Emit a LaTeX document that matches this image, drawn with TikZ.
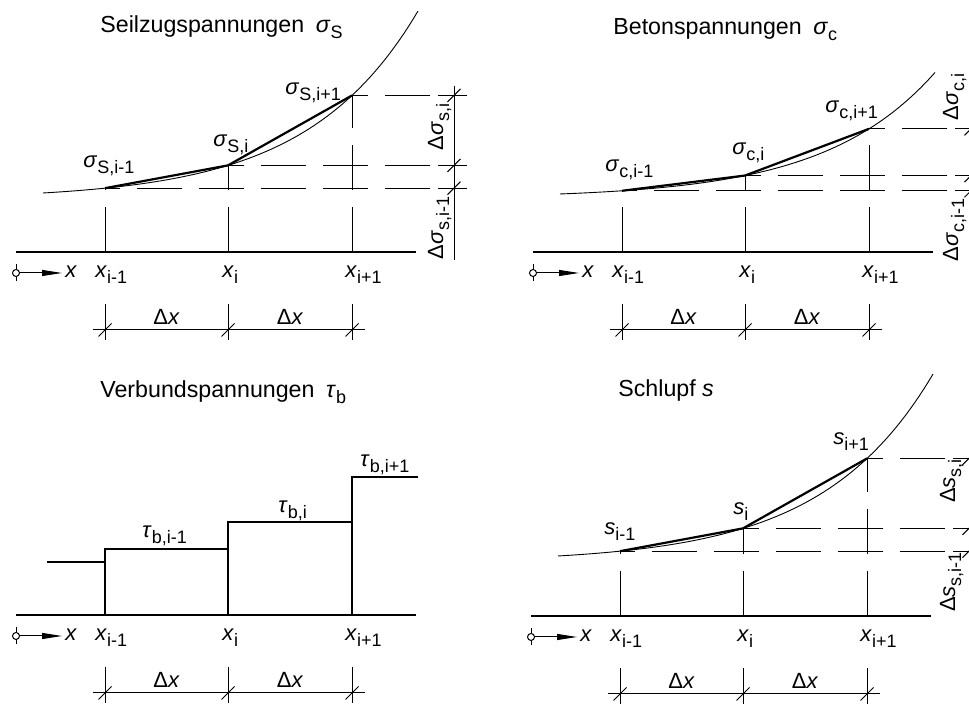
\documentclass[tikz,border=0pt]{standalone}
\usepackage{fontspec}
\setmainfont{Liberation Sans}
\usepackage{tikz}
\usetikzlibrary{arrows.meta, positioning}
\newcommand{\subtxt}[1]{\raisebox{-3pt}{\fontsize{9}{10}\selectfont #1}}
\tikzset{
  thinline/.style={line width=0.5pt},
  axisline/.style={line width=0.55pt},
  curveline/.style={line width=0.45pt},
  chord/.style={line width=1.1pt},
  stepline/.style={line width=1.15pt},
  guide/.style={line width=0.5pt, dash pattern=on 22.5pt off 8.5pt},
  dimline/.style={line width=0.5pt},
  lbl/.style={font=\fontsize{11}{13}\selectfont, inner sep=0pt},
  heading/.style={font=\fontsize{11.6}{14}\selectfont, inner sep=0pt, anchor=base west},
  dimtick/.pic={\draw[dimline] (-6.5,-6.5) -- (6.5,6.5);},
  xaxis/.pic={
    \coordinate (-o) at (0,0);
    \coordinate (-e) at (400,0);
    \coordinate (-m) at (0,-21);
    \coordinate (-mt) at (0,-12);
    \coordinate (-mb) at (0,-29);
    \coordinate (-tip) at (46,-21);
    \draw[axisline] (-o) -- (-e);
    \draw[thinline] (-mt) -- (-mb);
    \draw[thinline, -{Triangle[length=10pt, width=3pt]}] (-m) -- (-tip);
    \draw[thinline, fill=white] (-m) circle[radius=3.5];
    \node[lbl, anchor=base west] (-lx) at (49,-26) {\textit{x}};
    \node[lbl, anchor=base west] (-l1) at (79,-26) {\textit{x}\subtxt{i-1}};
    \node[lbl, anchor=base west] (-l2) at (206,-26) {\textit{x}\subtxt{i}};
    \node[lbl, anchor=base west] (-l3) at (329,-26) {\textit{x}\subtxt{i+1}};
    % Bemassung Delta x
    \coordinate (-u1) at (89,-52);  \coordinate (-v1) at (89,-88);
    \coordinate (-u2) at (212,-52); \coordinate (-v2) at (212,-88);
    \coordinate (-u3) at (336,-52); \coordinate (-v3) at (336,-88);
    \coordinate (-d0) at (77,-78);  \coordinate (-d4) at (349,-78);
    \draw[dimline] (-u1) -- (-v1);
    \draw[dimline] (-u2) -- (-v2);
    \draw[dimline] (-u3) -- (-v3);
    \draw[dimline] (-d0) -- (-d4);
    \pic at (89,-78) {dimtick};
    \pic at (212,-78) {dimtick};
    \pic at (336,-78) {dimtick};
    \node[lbl, anchor=base] (-dx1) at (150.5,-73) {Δ\textit{x}};
    \node[lbl, anchor=base] (-dx2) at (274,-73) {Δ\textit{x}};
  },
  graph/.pic={
    \draw[curveline] plot[domain=27:402, samples=80] (\x,{f(\x)});
    \coordinate (-p1) at (89,{f(89)});
    \coordinate (-p2) at (212,{f(212)});
    \coordinate (-p3) at (336,{f(336)});
    \coordinate (-b1) at (89,0);
    \coordinate (-b2) at (212,0);
    \coordinate (-b3) at (336,0);
    \coordinate (-h1) at (414,{f(89)});
    \coordinate (-h2) at (414,{f(212)});
    \coordinate (-h3) at (414,{f(336)});
    \coordinate (-k1) at (438,{f(89)});
    \coordinate (-k2) at (438,{f(212)});
    \coordinate (-k3) at (438,{f(336)});
    \coordinate (-dt) at (438,{f(336)+9});
    \coordinate (-db) at (438,-8);
    \draw[chord] (-p1) -- (-p2) -- (-p3);
    \draw[guide] (-b1) -- (-p1);
    \draw[guide] (-b2) -- (-p2);
    \draw[guide] (-b3) -- (-p3);
    \draw[guide] (-h1) -- (-p1);
    \draw[guide] (-h2) -- (-p2);
    \draw[guide] (-h3) -- (-p3);
    \draw[thinline] (-k1) ++(-16,0) -- ++(29,0);
    \draw[thinline] (-k2) ++(-16,0) -- ++(29,0);
    \draw[thinline] (-k3) ++(-16,0) -- ++(29,0);
    \draw[dimline] (-dt) -- (-db);
    \pic at (-k1) {dimtick};
    \pic at (-k2) {dimtick};
    \pic at (-k3) {dimtick};
  },
}

\begin{document}
\begin{tikzpicture}[x=0.5pt, y=0.5pt]
  \useasboundingbox (0,0) rectangle (969,704);

  % Seilzugspannungen
  \begin{scope}[shift={(16,452)}, declare function={f(\t)=59+6.44*(exp(0.009*(\t-27))-1);}]
    \pic (sa) {xaxis};
    \pic (sg) {graph};
    \node[heading] (stitle) at (84,219) {Seilzugspannungen\enspace\textit{σ}\subtxt{S}};
    \node[lbl, anchor=base west] (s1) at (67,84) {\textit{σ}\subtxt{S,i-1}};
    \node[lbl, anchor=base west] (s2) at (197,105) {\textit{σ}\subtxt{S,i}};
    \node[lbl, anchor=base west] (s3) at (269,157) {\textit{σ}\subtxt{S,i+1}};
    \node[lbl, anchor=base, rotate=90] (sd2) at (427,125) {Δ\textit{σ}\subtxt{s,i}};
    \node[lbl, anchor=base, rotate=90] (sd1) at (427,24) {Δ\textit{σ}\subtxt{s,i-1}};
  \end{scope}

  % Betonspannungen
  \begin{scope}[shift={(533,452)}, declare function={f(\t)=58+4.3*(exp(0.009*(\t-27))-1);}]
    \pic (ba) {xaxis};
    \pic (bg) {graph};
    \node[heading] (btitle) at (80,217) {Betonspannungen\enspace\textit{σ}\subtxt{c}};
    \node[lbl, anchor=base west] (c1) at (72,80) {\textit{σ}\subtxt{c,i-1}};
    \node[lbl, anchor=base west] (c2) at (199,97) {\textit{σ}\subtxt{c,i}};
    \node[lbl, anchor=base west] (c3) at (292,139) {\textit{σ}\subtxt{c,i+1}};
    \node[lbl, anchor=base, rotate=90] (cd2) at (425,155) {Δ\textit{σ}\subtxt{c,i}};
    \node[lbl, anchor=base, rotate=90] (cd1) at (425,22) {Δ\textit{σ}\subtxt{c,i-1}};
  \end{scope}

  % Verbundspannungen
  \begin{scope}[shift={(16,89)}]
    \pic (va) {xaxis};
    \coordinate (t0) at (31,53);
    \coordinate (t1) at (89,53);
    \coordinate (t2) at (89,66);
    \coordinate (t3) at (212,66);
    \coordinate (t4) at (212,93);
    \coordinate (t5) at (336,93);
    \coordinate (t6) at (336,138);
    \coordinate (t7) at (402,138);
    \draw[stepline] (t0) -- (t1) -- (t2) -- (t3) -- (t4) -- (t5) -- (t6) -- (t7);
    \draw[stepline] (va-u1 |- va-o) -- (t1);
    \draw[stepline] (va-u2 |- va-o) -- (t3);
    \draw[stepline] (va-u3 |- va-o) -- (t5);
    \node[heading] (vtitle) at (84,217) {Verbundspannungen\enspace\textit{τ}\subtxt{b}};
    \node[lbl, anchor=base west] (v1) at (126,77) {\textit{τ}\subtxt{b,i-1}};
    \node[lbl, anchor=base west] (v2) at (262,102) {\textit{τ}\subtxt{b,i}};
    \node[lbl, anchor=base west] (v3) at (344,148) {\textit{τ}\subtxt{b,i+1}};
  \end{scope}

  % Schlupf
  \begin{scope}[shift={(531,88)}, declare function={f(\t)=60+6.44*(exp(0.009*(\t-27))-1);}]
    \pic (ha) {xaxis};
    \pic (hg) {graph};
    \node[heading] (htitle) at (87,219) {Schlupf \textit{s}};
    \node[lbl, anchor=base west] (h1) at (73,81) {\textit{s}\subtxt{i-1}};
    \node[lbl, anchor=base west] (h2) at (202,101) {\textit{s}\subtxt{i}};
    \node[lbl, anchor=base west] (h3) at (302,171) {\textit{s}\subtxt{i+1}};
    \node[lbl, anchor=base, rotate=90] (hd2) at (424,135) {Δ\textit{s}\subtxt{s,i}};
    \node[lbl, anchor=base, rotate=90] (hd1) at (424,34) {Δ\textit{s}\subtxt{s,i-1}};
  \end{scope}
\end{tikzpicture}
\end{document}
